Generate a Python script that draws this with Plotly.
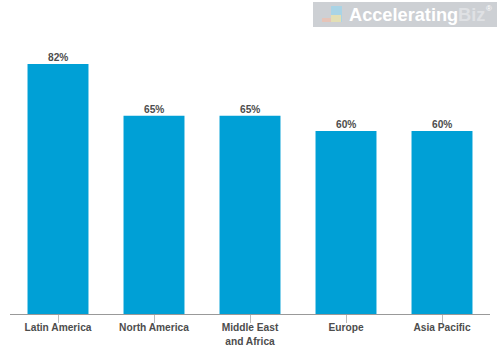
import plotly.graph_objects as go

categories = ["Latin America", "North America", "Middle East<br>and Africa", "Europe", "Asia Pacific"]
values = [82, 65, 65, 60, 60]
labels = ["82%", "65%", "65%", "60%", "60%"]

W, H = 500, 358
L, R, T, B = 10, 10, 0, 44
PW, PH = W - L - R, H - T - B


def fx(x):
    return (x - L) / PW


def fy(y):
    return (PH - y) / PH


fig = go.Figure(go.Bar(
    x=categories, y=values, width=0.635,
    marker=dict(color="#00a0d6", line=dict(width=0)),
    hoverinfo="skip",
))

logo_rects = [
    (313, 497, 2, 27, "#cdd0d4"),
    (331, 342, 6, 22, "#a9d4e6"),
    (322, 331, 18, 22, "#e6c4b8"),
    (331, 341, 15, 22, "#e3dfb5"),
]
shapes = [
    dict(type="rect", xref="paper", yref="paper", x0=fx(a), x1=fx(b), y0=fy(d), y1=fy(c),
         fillcolor=col, line=dict(width=0), layer="below")
    for a, b, c, d, col in logo_rects
]

value_notes = [
    dict(x=c, y=v, text=f"<b>{t}</b>", showarrow=False, xanchor="center", yanchor="bottom", yshift=-1,
         font=dict(family="Liberation Sans", size=10.2, color="#4d4d4d"))
    for c, v, t in zip(categories, values, labels)
]


def logo(x, text, size, color):
    return dict(xref="paper", yref="paper", x=fx(x), y=fy(14.5), xanchor="left", yanchor="middle",
                showarrow=False, text=text, font=dict(family="Liberation Sans", size=size, color=color),
                xshift=0, yshift=0)


fig.update_layout(
    width=W, height=H, autosize=False,
    margin=dict(l=L, r=R, t=T, b=B),
    paper_bgcolor="white", plot_bgcolor="white",
    showlegend=False, shapes=shapes,
    xaxis=dict(
        showline=True, linecolor="#999999", linewidth=1,
        ticks="outside", ticklen=8, tickcolor="#bbbbbb", tickwidth=1,
        ticklabelstandoff=-4,
        tickfont=dict(family="Liberation Sans", size=10.2, color="#4d4d4d", weight="bold"),
        showgrid=False, fixedrange=True,
    ),
    yaxis=dict(range=[0, 102.95], visible=False, showgrid=False, zeroline=False, fixedrange=True),
    annotations=value_notes + [
        logo(347, "<b>Accelerating</b>", 18.2, "white"),
        logo(456, "<b>Biz</b>", 18.2, "#dfe1e4"),
    ] + [
        dict(xref="paper", yref="paper", x=fx(484), y=fy(9), xanchor="left", yanchor="middle",
             showarrow=False, text="®", font=dict(family="Liberation Sans", size=8, color="white")),
    ],
)
fig.write_html("out.html", config=dict(displayModeBar=False),
               post_script="document.body.style.margin='0';document.documentElement.style.overflow='hidden';")
